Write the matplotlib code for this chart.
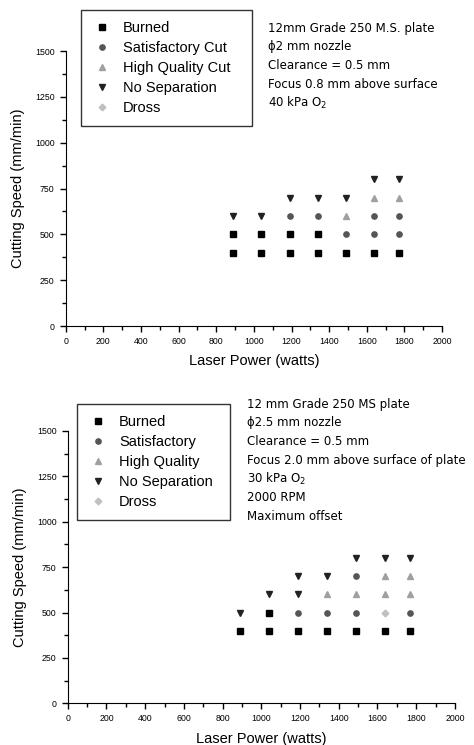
import matplotlib
matplotlib.use("Agg")
import matplotlib.pyplot as plt
from matplotlib.ticker import MultipleLocator
from matplotlib.lines import Line2D

plt.rcParams['font.family'] = ['Liberation Sans', 'DejaVu Sans']

# top panel: 12 mm plate, 2 mm nozzle
top_burned_x = [890, 890, 1040, 1040, 1190, 1190, 1340, 1340, 1490, 1640, 1770]
top_burned_y = [400, 500, 400, 500, 400, 500, 400, 500, 400, 400, 400]
top_sat_x = [1190, 1340, 1490, 1640, 1640, 1770, 1770]
top_sat_y = [600, 600, 500, 500, 600, 500, 600]
top_hq_x = [1490, 1640, 1770]
top_hq_y = [600, 700, 700]
top_nosep_x = [890, 1040, 1190, 1340, 1490, 1640, 1770]
top_nosep_y = [600, 600, 700, 700, 700, 800, 800]
top_dross_x = []
top_dross_y = []

# bottom panel: 12 mm plate, 2.5 mm nozzle
bot_burned_x = [890, 1040, 1040, 1190, 1340, 1490, 1640, 1770]
bot_burned_y = [400, 400, 500, 400, 400, 400, 400, 400]
bot_sat_x = [1190, 1340, 1490, 1490, 1770]
bot_sat_y = [500, 500, 500, 700, 500]
bot_hq_x = [1340, 1490, 1640, 1640, 1770, 1770]
bot_hq_y = [600, 600, 600, 700, 600, 700]
bot_nosep_x = [890, 1040, 1190, 1190, 1340, 1490, 1640, 1770]
bot_nosep_y = [500, 600, 600, 700, 700, 800, 800, 800]
bot_dross_x = [1640]
bot_dross_y = [500]

top_labels = ['Burned', 'Satisfactory Cut', 'High Quality Cut', 'No Separation', 'Dross']
bot_labels = ['Burned', 'Satisfactory', 'High Quality', 'No Separation', 'Dross']

top_notes = ['12mm Grade 250 M.S. plate', '\u03d52 mm nozzle', 'Clearance = 0.5 mm',
             'Focus 0.8 mm above surface', '40 kPa O$_2$']
bot_notes = ['12 mm Grade 250 MS plate', '\u03d52.5 mm nozzle', 'Clearance = 0.5 mm',
             'Focus 2.0 mm above surface of plate', '30 kPa O$_2$', '2000 RPM', 'Maximum offset']

# marker, size, colour per category
styles = [('s', 4.3, '#000000'), ('o', 3.8, '#555555'), ('^', 4.6, '#a0a0a0'),
          ('v', 5.0, '#222222'), ('D', 3.4, '#c0c0c0')]


def draw_panel(ax, series, labels, notes, leg_box, note_xy):
    for (xs, ys), (m, ms, c) in zip(series, styles):
        ax.plot(xs, ys, linestyle='none', marker=m, markersize=ms, color=c)
    ax.set_xlim(0, 2000)
    ax.set_ylim(0, 1500)
    ax.xaxis.set_major_locator(MultipleLocator(200))
    ax.xaxis.set_minor_locator(MultipleLocator(100))
    ax.yaxis.set_major_locator(MultipleLocator(250))
    ax.yaxis.set_minor_locator(MultipleLocator(125))
    ax.spines['top'].set_visible(False)
    ax.spines['right'].set_visible(False)
    ax.tick_params(which='major', direction='out', length=4, width=1, labelsize=6.3, pad=4)
    ax.tick_params(which='minor', direction='out', length=3, width=1)
    ax.set_xlabel('Laser Power (watts)', fontsize=10.5, labelpad=6)
    ax.set_ylabel('Cutting Speed (mm/min)', fontsize=10.5, labelpad=7)

    handles = [Line2D([], [], linestyle='none', marker=m, markersize=ms, color=c)
               for (m, ms, c) in styles]
    leg = fig.legend(handles, labels, loc='upper left', bbox_to_anchor=leg_box,
                     bbox_transform=fig.transFigure, mode='expand', borderaxespad=0,
                     fontsize=10.5, frameon=True, fancybox=False, labelspacing=0.41,
                     handlelength=1.33, handletextpad=0.8, borderpad=0.75)
    leg.get_frame().set_edgecolor('black')
    leg.get_frame().set_linewidth(1)

    # one note per line, evenly stepped down
    for i, line in enumerate(notes):
        fig.text(note_xy[0], note_xy[1] - i * 0.0251, line, fontsize=8.5, va='center',
                 ha='left', family=['DejaVu Sans'])


fig = plt.figure(figsize=(4.74, 7.45), dpi=100)

ax1 = fig.add_axes([0.1386, 0.5624, 0.794, 0.369])
draw_panel(ax1,
           [(top_burned_x, top_burned_y), (top_sat_x, top_sat_y), (top_hq_x, top_hq_y),
            (top_nosep_x, top_nosep_y), (top_dross_x, top_dross_y)],
           top_labels, top_notes, (0.171, 0.8295, 0.361, 0.157), (0.565, 0.9624))

ax2 = fig.add_axes([0.1428, 0.056, 0.817, 0.3655])
draw_panel(ax2,
           [(bot_burned_x, bot_burned_y), (bot_sat_x, bot_sat_y), (bot_hq_x, bot_hq_y),
            (bot_nosep_x, bot_nosep_y), (bot_dross_x, bot_dross_y)],
           bot_labels, bot_notes, (0.1624, 0.30, 0.3228, 0.1577), (0.521, 0.4577))

fig.savefig('out.png', dpi=100)
